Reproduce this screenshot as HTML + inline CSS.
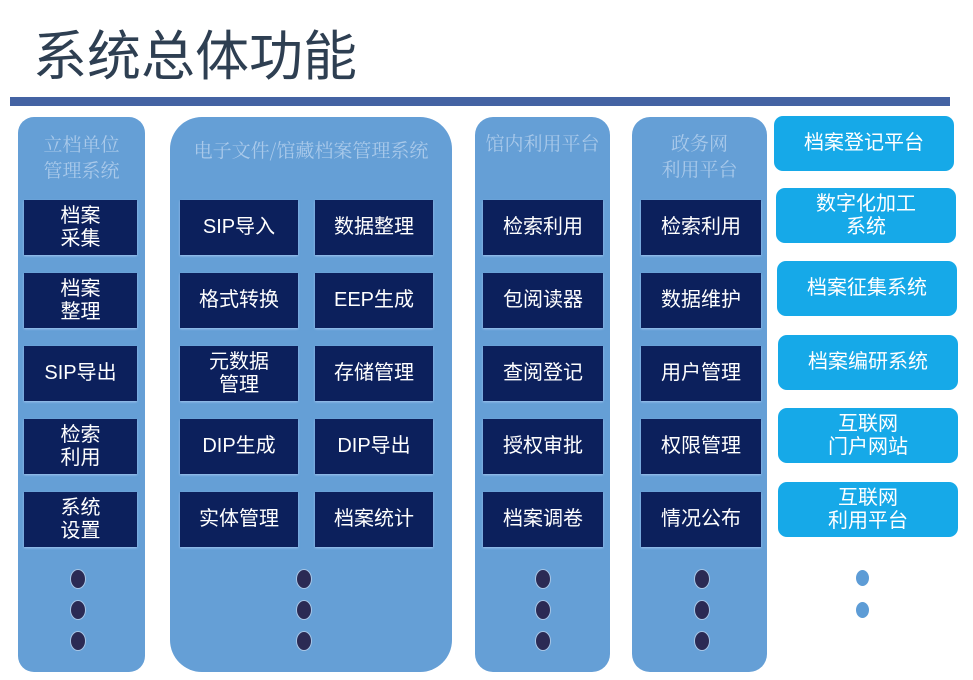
<!DOCTYPE html>
<html><head><meta charset="utf-8"><style>
body{margin:0;width:973px;height:680px;background:#fff;position:relative;overflow:hidden;font-family:"Liberation Sans","Noto Sans CJK SC",sans-serif}
.a{position:absolute}
.title{left:33px;top:12px;font-size:54px;color:#2e3f52;letter-spacing:0px}
.bar{left:10px;top:97px;width:940px;height:9px;background:#4463a3}
.p{position:absolute;background:#659fd6;}
.ph{position:absolute;color:#a9c9ea;font-family:"Noto Serif CJK SC","Liberation Serif",serif;font-size:19px;text-align:center;line-height:26px}
.b{position:absolute;background:#0c205c;color:#fff;font-size:20px;display:flex;align-items:center;justify-content:center;text-align:center;line-height:23px;box-shadow:0 1px 2px rgba(200,220,255,.6)}
.c{position:absolute;background:#16a9e8;color:#fff;font-size:20px;display:flex;align-items:center;justify-content:center;text-align:center;line-height:23px;border-radius:9px;width:180px;height:55px}
.d{position:absolute;width:14px;height:18px;border-radius:50%;background:#2b2a54;border:1px solid #a8c6e6}
.dl{position:absolute;width:13px;height:16px;border-radius:50%;background:#5d9cd6}
</style></head><body>
<div class="a title">系统总体功能</div>
<div class="a bar"></div>

<div class="p" style="left:18px;top:117px;width:127px;height:555px;border-radius:16px"></div>
<div class="ph" style="left:18px;top:131px;width:127px">立档单位<br>管理系统</div>
<div class="p" style="left:170px;top:117px;width:282px;height:555px;border-radius:32px"></div>
<div class="ph" style="left:170px;top:137px;width:282px">电子文件/馆藏档案管理系统</div>
<div class="p" style="left:475px;top:117px;width:135px;height:555px;border-radius:18px"></div>
<div class="ph" style="left:475px;top:130px;width:135px">馆内利用平台</div>
<div class="p" style="left:632px;top:117px;width:135px;height:555px;border-radius:18px"></div>
<div class="ph" style="left:632px;top:130px;width:135px">政务网<br>利用平台</div>

<div class="b" style="left:24px;top:200px;width:113px;height:55px">档案<br>采集</div>
<div class="b" style="left:24px;top:273px;width:113px;height:55px">档案<br>整理</div>
<div class="b" style="left:24px;top:346px;width:113px;height:55px">SIP导出</div>
<div class="b" style="left:24px;top:419px;width:113px;height:55px">检索<br>利用</div>
<div class="b" style="left:24px;top:492px;width:113px;height:55px">系统<br>设置</div>

<div class="b" style="left:180px;top:200px;width:118px;height:55px">SIP导入</div>
<div class="b" style="left:315px;top:200px;width:118px;height:55px">数据整理</div>
<div class="b" style="left:180px;top:273px;width:118px;height:55px">格式转换</div>
<div class="b" style="left:315px;top:273px;width:118px;height:55px">EEP生成</div>
<div class="b" style="left:180px;top:346px;width:118px;height:55px">元数据<br>管理</div>
<div class="b" style="left:315px;top:346px;width:118px;height:55px">存储管理</div>
<div class="b" style="left:180px;top:419px;width:118px;height:55px">DIP生成</div>
<div class="b" style="left:315px;top:419px;width:118px;height:55px">DIP导出</div>
<div class="b" style="left:180px;top:492px;width:118px;height:55px">实体管理</div>
<div class="b" style="left:315px;top:492px;width:118px;height:55px">档案统计</div>

<div class="b" style="left:483px;top:200px;width:120px;height:55px">检索利用</div>
<div class="b" style="left:483px;top:273px;width:120px;height:55px">包阅读器</div>
<div class="b" style="left:483px;top:346px;width:120px;height:55px">查阅登记</div>
<div class="b" style="left:483px;top:419px;width:120px;height:55px">授权审批</div>
<div class="b" style="left:483px;top:492px;width:120px;height:55px">档案调卷</div>

<div class="b" style="left:641px;top:200px;width:120px;height:55px">检索利用</div>
<div class="b" style="left:641px;top:273px;width:120px;height:55px">数据维护</div>
<div class="b" style="left:641px;top:346px;width:120px;height:55px">用户管理</div>
<div class="b" style="left:641px;top:419px;width:120px;height:55px">权限管理</div>
<div class="b" style="left:641px;top:492px;width:120px;height:55px">情况公布</div>

<div class="c" style="left:774px;top:116px">档案登记平台</div>
<div class="c" style="left:776px;top:188px">数字化加工<br>系统</div>
<div class="c" style="left:777px;top:261px">档案征集系统</div>
<div class="c" style="left:778px;top:335px">档案编研系统</div>
<div class="c" style="left:778px;top:408px">互联网<br>门户网站</div>
<div class="c" style="left:778px;top:482px">互联网<br>利用平台</div>

<div class="d" style="left:70px;top:569px"></div><div class="d" style="left:70px;top:600px"></div><div class="d" style="left:70px;top:631px"></div>
<div class="d" style="left:296px;top:569px"></div><div class="d" style="left:296px;top:600px"></div><div class="d" style="left:296px;top:631px"></div>
<div class="d" style="left:535px;top:569px"></div><div class="d" style="left:535px;top:600px"></div><div class="d" style="left:535px;top:631px"></div>
<div class="d" style="left:694px;top:569px"></div><div class="d" style="left:694px;top:600px"></div><div class="d" style="left:694px;top:631px"></div>
<div class="dl" style="left:856px;top:570px"></div><div class="dl" style="left:856px;top:602px"></div>
</body></html>
